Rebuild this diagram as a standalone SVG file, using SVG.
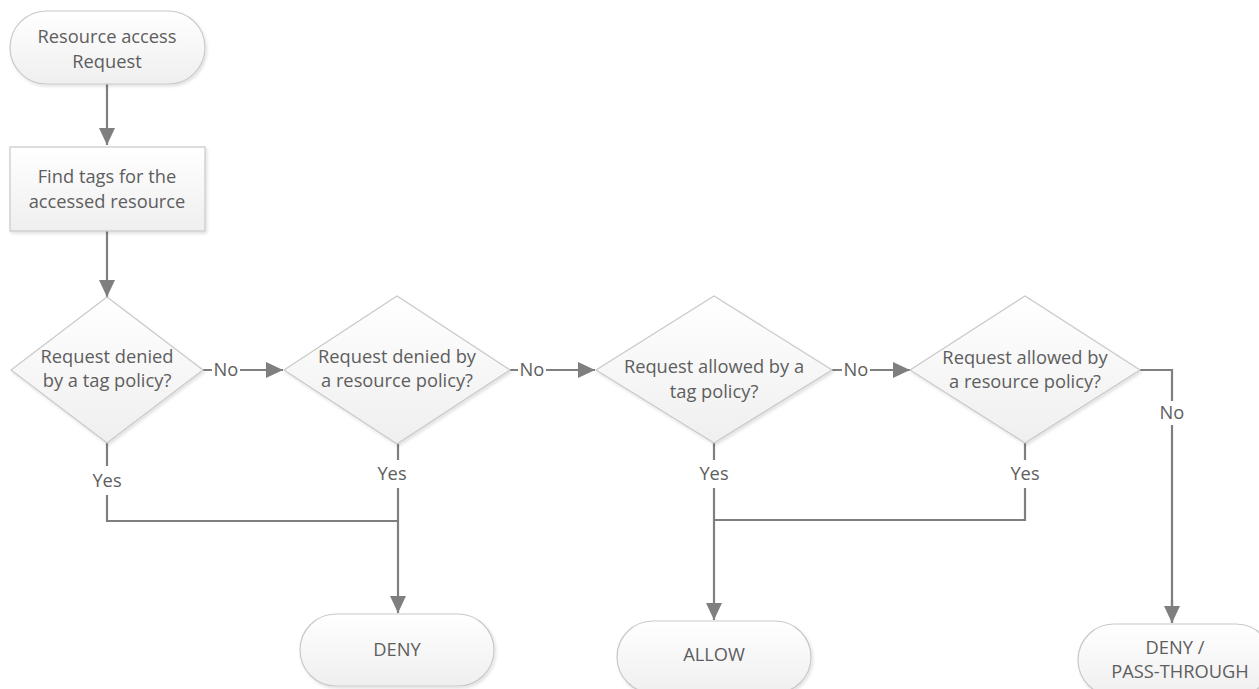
<svg xmlns="http://www.w3.org/2000/svg" width="1259" height="689" viewBox="0 0 1259 689">
<defs>
<linearGradient id="g" x1="0" y1="0" x2="0" y2="1">
<stop offset="0" stop-color="#ffffff"/>
<stop offset="1" stop-color="#efefef"/>
</linearGradient>
<filter id="sh" x="-10%" y="-10%" width="130%" height="140%">
<feDropShadow dx="1.5" dy="2" stdDeviation="1.5" flood-color="#000" flood-opacity="0.12"/>
</filter>
<marker id="arr" markerUnits="userSpaceOnUse" markerWidth="18" markerHeight="18" viewBox="0 0 18 18" refX="17" refY="9" orient="auto">
<path d="M0,1 L17,9 L0,17 Z" fill="#7f7f7f"/>
</marker>
<style>
.shape{fill:url(#g);stroke:#c9c9c9;stroke-width:1.2;filter:url(#sh)}
.t{font-family:"Open Sans","Liberation Sans",sans-serif;font-size:18.3px;fill:#5e5e5e;text-anchor:middle}
.c{fill:none;stroke:#7f7f7f;stroke-width:2.2}
.lb{fill:#ffffff}
</style>
</defs>
<g id="connectors">
<path class="c" d="M107,84 V145" marker-end="url(#arr)"/>
<path class="c" d="M107,231 V297" marker-end="url(#arr)"/>
<path class="c" d="M203,370 H283" marker-end="url(#arr)"/>
<path class="c" d="M510,370 H595" marker-end="url(#arr)"/>
<path class="c" d="M832,370 H910" marker-end="url(#arr)"/>
<path class="c" d="M1140,370 H1172 V623"/>
<path class="c" d="M1172,600 V623" marker-end="url(#arr)"/>
<path class="c" d="M107,443 V521 H398"/>
<path class="c" d="M398,444 V613" marker-end="url(#arr)"/>
<path class="c" d="M1025,443 V520 H714"/>
<path class="c" d="M714,443 V620" marker-end="url(#arr)"/>
<rect class="lb" x="212" y="360" width="28" height="20"/>
<text class="t" x="226" y="376">No</text>
<rect class="lb" x="518" y="360" width="28" height="20"/>
<text class="t" x="532" y="376">No</text>
<rect class="lb" x="842" y="360" width="28" height="20"/>
<text class="t" x="856" y="376">No</text>
<rect class="lb" x="1158" y="401" width="28" height="24"/>
<text class="t" x="1172" y="419">No</text>
<rect class="lb" x="88" y="466" width="38" height="29"/>
<text class="t" x="107" y="487">Yes</text>
<rect class="lb" x="373" y="460" width="38" height="28"/>
<text class="t" x="392" y="480">Yes</text>
<rect class="lb" x="695" y="460" width="38" height="28"/>
<text class="t" x="714" y="480">Yes</text>
<rect class="lb" x="1006" y="460" width="38" height="28"/>
<text class="t" x="1025" y="480">Yes</text>
</g>
<g id="start">
<rect class="shape" x="10" y="11" width="195" height="73" rx="36.5"/>
<text class="t" x="107" y="43">Resource access</text>
<text class="t" x="107" y="68">Request</text>
</g>
<g id="find-tags">
<rect class="shape" x="10" y="147" width="195" height="84"/>
<text class="t" x="107" y="183">Find tags for the</text>
<text class="t" x="107" y="208">accessed resource</text>
</g>
<g id="d1">
<polygon class="shape" points="107,297 203,370 107,443 11,370"/>
<text class="t" x="107" y="363">Request denied</text>
<text class="t" x="107" y="387">by a tag policy?</text>
</g>
<g id="d2">
<polygon class="shape" points="397,296 510,370 397,444 284,370"/>
<text class="t" x="397" y="363">Request denied by</text>
<text class="t" x="397" y="387">a resource policy?</text>
</g>
<g id="d3">
<polygon class="shape" points="714,296 832,370 714,443 596,370"/>
<text class="t" x="714" y="373">Request allowed by a</text>
<text class="t" x="714" y="398">tag policy?</text>
</g>
<g id="d4">
<polygon class="shape" points="1025,296 1140,370 1025,443 910,370"/>
<text class="t" x="1025" y="364">Request allowed by</text>
<text class="t" x="1025" y="388">a resource policy?</text>
</g>
<g id="deny">
<rect class="shape" x="300" y="614" width="194" height="72" rx="36"/>
<text class="t" x="397" y="656">DENY</text>
</g>
<g id="allow">
<rect class="shape" x="617" y="621" width="194" height="72" rx="36"/>
<text class="t" x="714" y="661">ALLOW</text>
</g>
<g id="deny-pass">
<rect class="shape" x="1078" y="624" width="194" height="72" rx="36"/>
<text class="t" x="1175" y="654">DENY /</text>
<text class="t" x="1180" y="678">PASS-THROUGH</text>
</g>
</svg>
